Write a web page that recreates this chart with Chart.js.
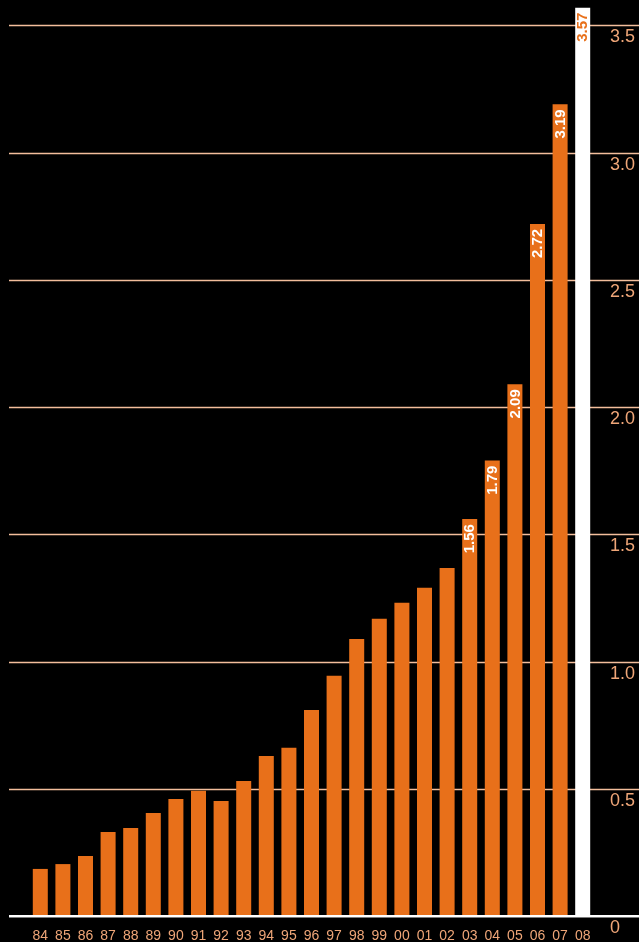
<!DOCTYPE html>
<html>
<head>
<meta charset="utf-8">
<script src="https://cdn.jsdelivr.net/npm/chart.js@4.4.0/dist/chart.umd.min.js"></script>
<style>
  html, body { margin: 0; padding: 0; background: #000; }
  #wrap { width: 639px; height: 942px; }
</style>
</head>
<body>
<div id="wrap"><canvas id="c" width="639" height="942"></canvas></div>
<script>
const years = ['84','85','86','87','88','89','90','91','92','93','94','95','96','97','98','99','00','01','02','03','04','05','06','07','08'];
const values = [0.185,0.204,0.236,0.330,0.346,0.405,0.460,0.492,0.452,0.531,0.629,0.661,0.810,0.944,1.089,1.168,1.231,1.290,1.368,1.56,1.79,2.09,2.72,3.19,3.57];
const valueLabels = [null,null,null,null,null,null,null,null,null,null,null,null,null,null,null,null,null,null,null,'1.56','1.79','2.09','2.72','3.19','3.57'];
const yTickValues = [0,0.5,1.0,1.5,2.0,2.5,3.0,3.5];
const yTickLabels = ['0','0.5','1.0','1.5','2.0','2.5','3.0','3.5'];

const ORANGE = '#E8701A';
const PEACH = '#EFA678';
const GRID = '#F3BE9C';
const lastIdx = values.length - 1;

const bgPlugin = {
  id: 'bg',
  beforeDraw(chart) {
    const ctx = chart.ctx;
    ctx.save();
    ctx.fillStyle = '#000';
    ctx.fillRect(0, 0, chart.width, chart.height);
    ctx.restore();
  },
  beforeDatasetsDraw(chart) {
    const ctx = chart.ctx;
    const ys = chart.scales.y;
    ctx.save();
    ctx.strokeStyle = GRID;
    ctx.lineWidth = 1.3;
    yTickValues.forEach(v => {
      if (v === 0) return;
      const y = Math.round(ys.getPixelForValue(v)) + 0.5;
      ctx.beginPath();
      ctx.moveTo(9, y);
      ctx.lineTo(chart.width, y);
      ctx.stroke();
    });
    ctx.restore();
  },
  afterDatasetsDraw(chart) {
    const ctx = chart.ctx;
    const ys = chart.scales.y;
    const y0 = ys.getPixelForValue(0);
    ctx.save();
    ctx.strokeStyle = '#FFFFFF';
    ctx.lineWidth = 2;
    ctx.beginPath();
    ctx.moveTo(9, y0);
    ctx.lineTo(chart.width, y0);
    ctx.stroke();
    ctx.strokeStyle = '#7a7a7a';
    ctx.lineWidth = 1;
    ctx.beginPath();
    ctx.moveTo(9, y0 + 1.5);
    ctx.lineTo(chart.width, y0 + 1.5);
    ctx.stroke();

    const meta = chart.getDatasetMeta(0);
    ctx.font = 'bold 15px "Liberation Sans Narrow", "Liberation Sans", sans-serif';
    ctx.textAlign = 'right';
    ctx.textBaseline = 'middle';
    meta.data.forEach((el, i) => {
      const lab = valueLabels[i];
      if (!lab) return;
      ctx.save();
      ctx.translate(el.x + 0.5, el.y + 5);
      ctx.rotate(-Math.PI / 2);
      ctx.fillStyle = i === lastIdx ? ORANGE : '#FFFFFF';
      ctx.fillText(lab, 0, 0);
      ctx.restore();
    });
    ctx.restore();
  }
};

new Chart(document.getElementById('c'), {
  type: 'bar',
  data: {
    labels: years,
    datasets: [{
      data: values,
      backgroundColor: values.map((v, i) => i === lastIdx ? '#FFFFFF' : ORANGE),
      borderWidth: 0,
      barPercentage: 0.664,
      categoryPercentage: 1.0,
      clip: false
    }]
  },
  options: {
    responsive: false,
    animation: false,
    devicePixelRatio: 1,
    layout: { padding: { left: 29, top: 0, right: 0, bottom: 0 } },
    plugins: { legend: { display: false }, tooltip: { enabled: false } },
    scales: {
      x: {
        type: 'category',
        position: 'bottom',
        grid: { display: false, drawTicks: false },
        border: { display: false },
        ticks: {
          color: PEACH,
          font: { family: '"Liberation Sans Narrow", "Liberation Sans", sans-serif', size: 14 },
          padding: 12,
          autoSkip: false,
          maxRotation: 0,
          minRotation: 0
        },
        afterFit(s) { s.height = 26; s.paddingLeft = 0; s.paddingRight = 0; }
      },
      y: {
        position: 'right',
        min: 0,
        max: 3.6,
        afterBuildTicks(s) { s.ticks = yTickValues.map(v => ({ value: v })); },
        grid: { display: false, drawTicks: false },
        border: { display: false },
        ticks: {
          color: PEACH,
          font: { family: '"Liberation Sans", sans-serif', size: 18 },
          padding: 16,
          labelOffset: 12,
          crossAlign: 'near',
          autoSkip: false,
          callback: (v, i) => yTickLabels[i]
        },
        afterFit(s) { s.width = 45; s.paddingTop = 0; s.paddingBottom = 0; }
      }
    }
  },
  plugins: [bgPlugin]
});
</script>
</body>
</html>
